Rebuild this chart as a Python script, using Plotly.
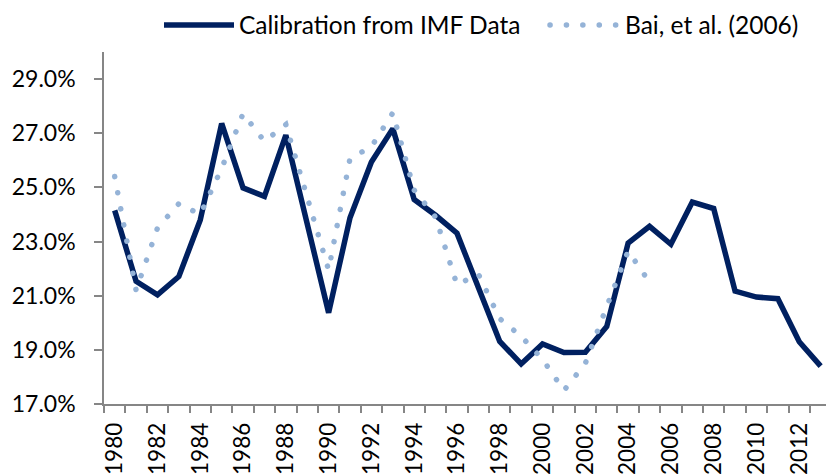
import plotly.graph_objects as go

years_imf = list(range(1980, 2014))
imf_values = [24.15, 21.53, 21.03, 21.71, 23.8, 27.36, 24.98, 24.67, 26.93, 23.65,
              20.37, 23.88, 25.94, 27.17, 24.55, 23.97, 23.31, 21.3, 19.31, 18.48,
              19.22, 18.9, 18.91, 19.86, 22.94, 23.56, 22.9, 24.46, 24.22, 21.17,
              20.95, 20.89, 19.3, 18.4]

years_bai = list(range(1980, 2006))
bai_values = [25.4, 21.2, 23.5, 24.4, 24.0, 25.7, 27.73, 26.7, 27.32, 24.7,
              21.95, 26.07, 26.5, 27.75, 24.9, 23.9, 21.4, 21.8, 20.15, 19.5,
              18.65, 17.5, 18.5, 20.6, 22.65, 21.5]

y_ticks = [17, 19, 21, 23, 25, 27, 29]
x_label_years = list(range(1980, 2013, 2))

NAVY = "#002060"
LIGHT = "#95B3D7"
AXIS = "#868686"
FONT = "Lato"

fig = go.Figure()
fig.add_trace(go.Scatter(
    x=years_imf, y=imf_values, mode="lines", name="Calibration from IMF Data",
    line=dict(color=NAVY, width=5.5), legend="legend"))
fig.add_trace(go.Scatter(
    x=years_bai, y=bai_values, mode="lines", name="Bai, et al. (2006)",
    line=dict(color=LIGHT, width=5.5, dash="0.1px,16.3px"), legend="legend2"))

legend_common = dict(orientation="h", xref="container", yref="container",
                     y=1 - 25 / 474, xanchor="left", yanchor="middle",
                     font=dict(family=FONT, size=24.5, color="black"),
                     itemwidth=70, bgcolor="rgba(0,0,0,0)")

fig.update_layout(
    width=826, height=474,
    margin=dict(l=104, r=0, t=52, b=70, autoexpand=False),
    paper_bgcolor="white", plot_bgcolor="white",
    font=dict(family=FONT, size=23, color="black"),
    showlegend=True,
    legend=dict(x=159 / 826, **legend_common),
    legend2=dict(x=545 / 826, **legend_common),
    xaxis=dict(range=[1979.5, 2013.25], showgrid=False, zeroline=False,
               automargin=False,
               showline=True, linecolor=AXIS, linewidth=1.5,
               tickmode="array", tickvals=x_label_years,
               ticktext=[str(v) for v in x_label_years],
               tickangle=-90, ticks="", ticklabelstandoff=8,
               tickfont=dict(family=FONT, size=22.5, color="black"),
               minor=dict(ticks="outside", tick0=1979.5, dtick=1, ticklen=7,
                          tickcolor=AXIS, tickwidth=1.5, showgrid=False)),
    yaxis=dict(range=[17, 30], showgrid=False, zeroline=False,
               automargin=False,
               showline=True, linecolor=AXIS, linewidth=1.5,
               tickmode="array", tickvals=y_ticks,
               ticktext=["%.1f%%" % v for v in y_ticks],
               ticks="outside", ticklen=8, tickcolor=AXIS, tickwidth=1.5,
               ticklabelstandoff=14,
               tickfont=dict(family=FONT, size=23, color="black")),
)

post = """
document.body.style.margin = '0';
document.body.style.padding = '0';
var gd = document.getElementById('{plot_id}');
gd.querySelectorAll('path.js-line').forEach(function(p){
  var d = p.style.strokeDasharray;
  if (d && d !== 'none' && d !== '') { p.style.strokeLinecap = 'round'; }
});
"""
fig.write_html("out.html", post_script=post, config={"displayModeBar": False})
